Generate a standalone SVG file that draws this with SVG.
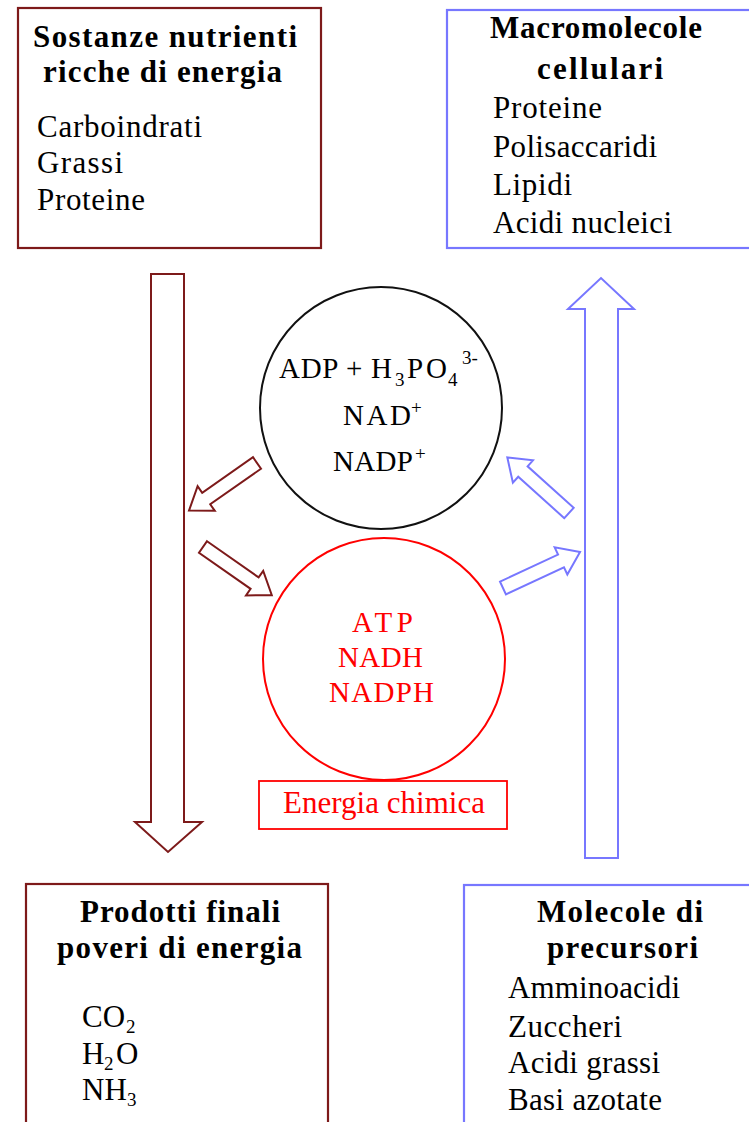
<svg xmlns="http://www.w3.org/2000/svg" width="749" height="1122" viewBox="0 0 749 1122">
  <style>
    .bg { fill: #ffffff; }
    .boxBrown { fill: #ffffff; stroke: #7d1a1a; stroke-width: 2.2; }
    .boxBlue { fill: #ffffff; stroke: #7777ff; stroke-width: 2.2; }
    .boxRed { fill: #ffffff; stroke: #ff0000; stroke-width: 1.8; }
    .arrBrown { fill: #ffffff; stroke: #7d1a1a; stroke-width: 2; stroke-linejoin: miter; }
    .arrBlue { fill: #ffffff; stroke: #7777ff; stroke-width: 2; stroke-linejoin: miter; }
    .circBlack { fill: #ffffff; stroke: #111111; stroke-width: 2; }
    .circRed { fill: #ffffff; stroke: #ff0000; stroke-width: 2; }
    text { font-family: "Liberation Serif", "Times New Roman", serif; fill: #000000; }
    .head { font-size: 31px; font-weight: bold; }
    .item { font-size: 31px; }
    .mol { font-size: 29px; }
    .red { fill: #ff0000; }
    .sub { font-size: 19px; }
  </style>

  <rect class="bg" x="0" y="0" width="749" height="1122"/>

  <!-- connectors: large flow arrows and small exchange arrows -->
  <g id="connectors">
    <!-- catabolism: downward arrow -->
    <path class="arrBrown" d="M151,274 L184,274 L184,822 L202,822 L168,852 L135,822 L151,822 Z"/>
    <!-- anabolism: upward arrow -->
    <path class="arrBlue" d="M585,858 L618,858 L618,309 L634,309 L601,278 L568,309 L585,309 Z"/>

    <!-- small block arrows (local shape: tail at x=0, tip at x=L) -->
    <g transform="translate(257,463) rotate(145)">
      <path class="arrBrown" d="M0,-7 L62,-7 L62,-15 L83,0 L62,15 L62,7 L0,7 Z"/>
    </g>
    <g transform="translate(203,547) rotate(35)">
      <path class="arrBrown" d="M0,-7 L63,-7 L63,-15 L84,0 L63,15 L63,7 L0,7 Z"/>
    </g>
    <g transform="translate(569,513) rotate(-138)">
      <path class="arrBlue" d="M0,-7 L62,-7 L62,-15 L83,0 L62,15 L62,7 L0,7 Z"/>
    </g>
    <g transform="translate(503,588) rotate(-25)">
      <path class="arrBlue" d="M0,-7 L64,-7 L64,-15 L85,0 L64,15 L64,7 L0,7 Z"/>
    </g>
  </g>

  <!-- nutrients rich in energy -->
  <g id="nutrienti">
    <rect class="boxBrown" x="18" y="8" width="303" height="240"/>
    <text class="head" x="33" y="47" textLength="264">Sostanze nutrienti</text>
    <text class="head" x="43" y="82" textLength="239">ricche di energia</text>
    <text class="item" x="37" y="137" textLength="165">Carboindrati</text>
    <text class="item" x="37" y="173" textLength="86">Grassi</text>
    <text class="item" x="37" y="210" textLength="108">Proteine</text>
  </g>

  <!-- cellular macromolecules -->
  <g id="macromolecole">
    <rect class="boxBlue" x="447" y="10" width="320" height="238"/>
    <text class="head" x="490" y="38" textLength="212">Macromolecole</text>
    <text class="head" x="537" y="79" textLength="126">cellulari</text>
    <text class="item" x="493" y="118" textLength="109">Proteine</text>
    <text class="item" x="493" y="157" textLength="164">Polisaccaridi</text>
    <text class="item" x="493" y="195" textLength="79">Lipidi</text>
    <text class="item" x="493" y="233" textLength="179">Acidi nucleici</text>
  </g>

  <!-- oxidized cofactors -->
  <g id="cofattori-ossidati">
    <circle class="circBlack" cx="381" cy="408" r="121"/>
    <text class="mol">
      <tspan x="279" y="378" textLength="113">ADP + H</tspan><tspan class="sub" x="395" dy="8">3</tspan><tspan x="407" dy="-8" textLength="40">PO</tspan><tspan class="sub" x="448" dy="8">4</tspan><tspan class="sub" x="462" dy="-22">3-</tspan>
    </text>
    <text class="mol">
      <tspan x="343" y="425" textLength="68">NAD</tspan><tspan class="sub" x="411" dy="-11">+</tspan>
    </text>
    <text class="mol">
      <tspan x="333" y="471" textLength="80">NADP</tspan><tspan class="sub" x="415" dy="-11">+</tspan>
    </text>
  </g>

  <!-- reduced cofactors / chemical energy -->
  <g id="energia-chimica">
    <circle class="circRed" cx="384" cy="659" r="121"/>
    <text class="mol red" x="352" y="632" textLength="61">ATP</text>
    <text class="mol red" x="338" y="667" textLength="85">NADH</text>
    <text class="mol red" x="329" y="702" textLength="105">NADPH</text>
    <rect class="boxRed" x="259" y="781" width="248" height="48"/>
    <text class="item red" x="283" y="813" textLength="202">Energia chimica</text>
  </g>

  <!-- end products poor in energy -->
  <g id="prodotti-finali">
    <rect class="boxBrown" x="26" y="884" width="302" height="260"/>
    <text class="head" x="80" y="922" textLength="200">Prodotti finali</text>
    <text class="head" x="57" y="958" textLength="245">poveri di energia</text>
    <text class="item"><tspan x="82" y="1027">CO</tspan><tspan class="sub" x="126" dy="6">2</tspan></text>
    <text class="item"><tspan x="82" y="1064">H</tspan><tspan class="sub" x="104" dy="6">2</tspan><tspan x="116" dy="-6">O</tspan></text>
    <text class="item"><tspan x="82" y="1100">NH</tspan><tspan class="sub" x="127" dy="6">3</tspan></text>
  </g>

  <!-- precursor molecules -->
  <g id="precursori">
    <rect class="boxBlue" x="464" y="885" width="300" height="260"/>
    <text class="head" x="537" y="922" textLength="166">Molecole di</text>
    <text class="head" x="547" y="958" textLength="151">precursori</text>
    <text class="item" x="508" y="998" textLength="172">Amminoacidi</text>
    <text class="item" x="508" y="1037" textLength="114">Zuccheri</text>
    <text class="item" x="508" y="1073" textLength="152">Acidi grassi</text>
    <text class="item" x="508" y="1110" textLength="154">Basi azotate</text>
  </g>
</svg>
